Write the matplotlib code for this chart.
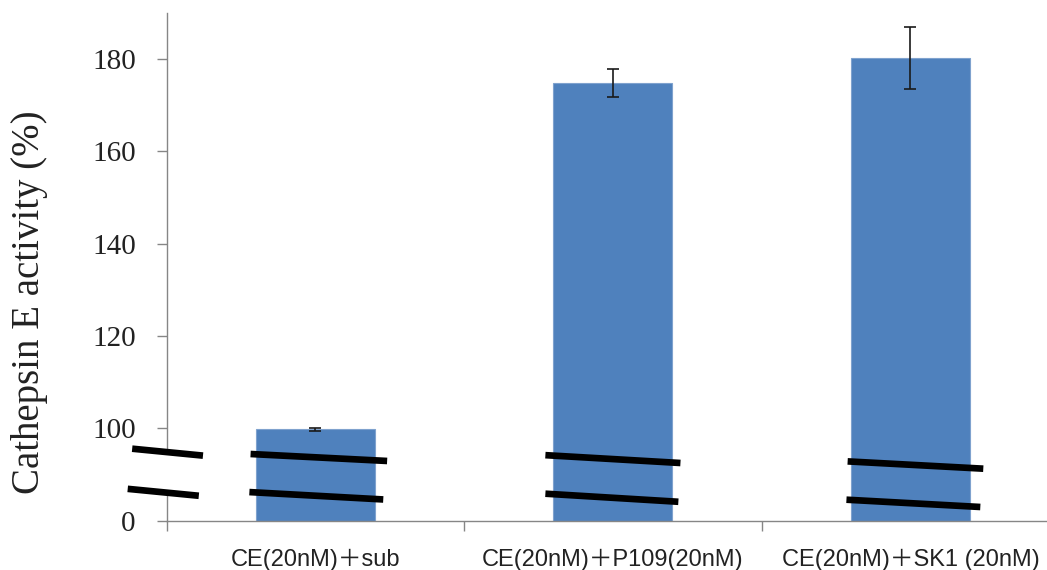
import matplotlib
matplotlib.use("Agg")
import matplotlib.pyplot as plt
from matplotlib.patches import Rectangle

# ---- data ----
categories = ['CE(20nM)＋sub', 'CE(20nM)＋P109(20nM)', 'CE(20nM)＋SK1 (20nM)']
values = [99.8, 174.9, 180.3]
errors = [0.3, 3.05, 6.7]
ytick_vals = [80, 100, 120, 140, 160, 180]
ytick_labels = ['0', '100', '120', '140', '160', '180']
ylabel = 'Cathepsin E activity (%)'
axis_base = 80  # axis break: value 80 is drawn as "0"

# break marks (x0, y0, x1, y1) in data units
break_marks = [
    (-0.616, 95.6, -0.378, 94.1), (-0.631, 86.9, -0.392, 85.4),
    (-0.218, 94.45, 0.241, 92.94), (-0.222, 86.2, 0.228, 84.6),
    (0.773, 94.2, 1.227, 92.5), (0.773, 85.85, 1.22, 84.1),
    (1.789, 92.85, 2.245, 91.27), (1.785, 84.55, 2.235, 82.97),
]

fig = plt.figure(figsize=(10.47, 5.70), dpi=100)
ax = fig.add_axes([0.1592, 0.0865, 0.8524, 0.8907])

x = list(range(len(categories)))
heights = [v - axis_base for v in values]
ax.bar(x, heights, bottom=axis_base, width=0.4, color='#4F81BD',
       edgecolor='#7FA2CE', linewidth=0.8, zorder=2)
ax.errorbar(x, values, yerr=errors, fmt='none', ecolor='#1a1a1a',
            elinewidth=1.2, capsize=4.3, capthick=1.2, zorder=3)

ax.set_xlim(-0.5, 2.5)
ax.set_ylim(80, 190)

for s in ['top', 'right']:
    ax.spines[s].set_visible(False)
for s in ['left', 'bottom']:
    ax.spines[s].set_color('#868686')
    ax.spines[s].set_linewidth(1.0)

ax.set_yticks(ytick_vals)
ax.set_yticklabels(ytick_labels, family='Liberation Serif', fontsize=21,
                   color='#222222')
ax.tick_params(axis='y', direction='out', length=7.2, width=1.0,
               color='#868686', pad=15)

ax.set_xticks(x)
ax.set_xticklabels(categories, family=['Liberation Sans', 'Noto Sans CJK JP'],
                   fontsize=17, color='#222222')
ax.tick_params(axis='x', which='major', length=0, pad=20)
ax.set_xticks([-0.5, 0.5, 1.5, 2.5], minor=True)
ax.tick_params(axis='x', which='minor', direction='out', length=7.2,
               width=1.0, color='#868686')

ax.set_ylabel(ylabel, family='Liberation Serif', fontsize=28,
              color='#222222', va='center')
ax.yaxis.set_label_coords(-0.1532, 0.431)

# white gap over the y spine between break marks
ax.add_patch(Rectangle((-0.56, 85.6), 0.12, 9.2, facecolor='white',
                       edgecolor='none', clip_on=False, zorder=4))

for (x0, y0, x1, y1) in break_marks:
    ax.plot([x0, x1], [y0, y1], color='black', linewidth=4.8,
            solid_capstyle='butt', clip_on=False, zorder=5)

fig.savefig('out.png', dpi=100)
